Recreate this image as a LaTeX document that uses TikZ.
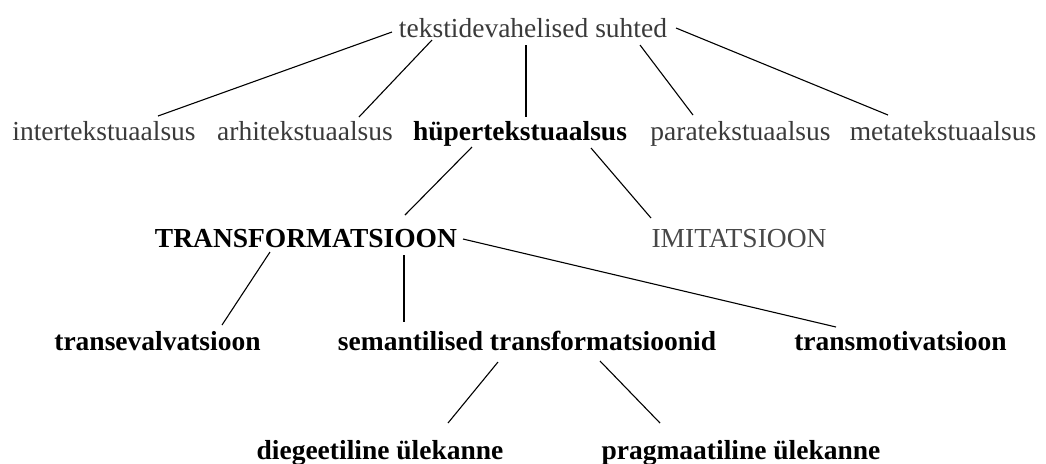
\documentclass[tikz,border=0pt]{standalone}
\usepackage{fontspec}
\setmainfont{Liberation Serif}
\usepackage{tikz}
\definecolor{TermGrey}{RGB}{58,58,58}
\definecolor{ImitGrey}{RGB}{72,72,72}

\begin{document}
\begin{tikzpicture}[x=0.5pt, y=-0.5pt, every node/.style={inner sep=0pt, anchor=base,
    font=\fontsize{13.75}{16}\selectfont}]
        \tikzstyle{term} = [text=TermGrey]
        \tikzstyle{mainterm} = [text=black, font=\fontsize{13.75}{16}\selectfont\bfseries]
        \tikzstyle{link} = [draw=black, line width=0.55pt]

        \useasboundingbox (0,0) rectangle (1046,463);

        % top
        \node[term] (root) at (533,37) {tekstidevahelised suhted};

        % five relations
        \foreach \name/\px/\txt in {inter/104/intertekstuaalsus, arhi/305/arhitekstuaalsus,
            para/740.5/paratekstuaalsus, meta/943/metatekstuaalsus}
          \node[term] (\name) at (\px,140) {\txt};
        \node[mainterm] (hyper) at (520,140) {hüpertekstuaalsus};

        % hypertextuality
        \node[mainterm] (trans) at (306,247) {TRANSFORMATSIOON};
        \node[text=ImitGrey] (imit) at (739,247) {IMITATSIOON};

        \node[mainterm] (transeval) at (157.5,350) {transevalvatsioon};
        \node[mainterm] (sem) at (527,350) {semantilised transformatsioonid};
        \node[mainterm] (transmot) at (900.5,350) {transmotivatsioon};

        \node[mainterm] (dieg) at (380,459) {diegeetiline ülekanne};
        \node[mainterm] (prag) at (741,459) {pragmaatiline ülekanne};

        % connectors
        \draw[link] ([shift={(-141,-5)}]root.base) -- ([shift={(54,-24)}]inter.base);
        \draw[link] ([shift={(-101,3)}]root.base) -- ([shift={(54,-23)}]arhi.base);
        \draw[link] ([shift={(-7,8)}]root.base) -- ([shift={(6,-23)}]hyper.base);
        \draw[link] ([shift={(107,8)}]root.base) -- ([shift={(-47.5,-25)}]para.base);
        \draw[link] ([shift={(143,-9)}]root.base) -- ([shift={(-55,-25)}]meta.base);

        \draw[link] ([shift={(-48,7)}]hyper.base) -- ([shift={(99,-32)}]trans.base);
        \draw[link] ([shift={(71,8)}]hyper.base) -- ([shift={(-88,-29)}]imit.base);

        \draw[link] ([shift={(-36,5)}]trans.base) -- ([shift={(64.5,-25)}]transeval.base);
        \draw[link] ([shift={(98,8)}]trans.base) -- ([shift={(-123,-28)}]sem.base);
        \draw[link] ([shift={(157,-8)}]trans.base) -- ([shift={(-64.5,-23)}]transmot.base);

        \draw[link] ([shift={(-29,12)}]sem.base) -- ([shift={(68,-36)}]dieg.base);
        \draw[link] ([shift={(73,11)}]sem.base) -- ([shift={(-81,-36)}]prag.base);
\end{tikzpicture}
\end{document}
